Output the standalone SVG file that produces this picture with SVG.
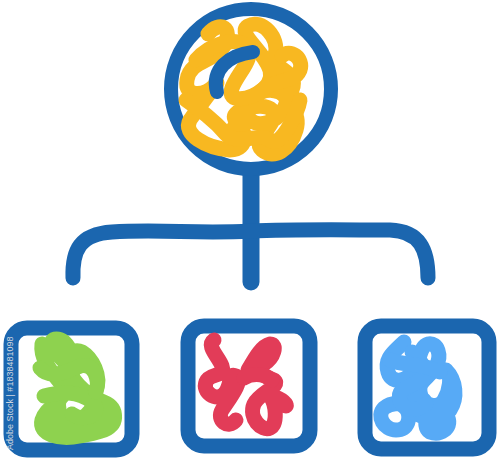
<svg xmlns="http://www.w3.org/2000/svg" width="500" height="461" viewBox="0 0 500 461">
<style>
.ln{fill:none;stroke:#1B66AF;stroke-linecap:round;stroke-linejoin:round}
.sc{fill:none;stroke-linecap:round;stroke-linejoin:round;stroke-width:15}
.y{stroke:#F8B821}.g{stroke:#8ED24F}.r{stroke:#E23C58}.b{stroke:#57AAF6}
.wm{font-family:"Liberation Sans",Arial,sans-serif;font-size:9px;fill:#cfd5df}
</style>
<rect width="500" height="461" fill="#fff"/>
<g id="connectors">
<path class="ln" stroke-width="17" d="M251 172 L251 282"/>
<path class="ln" stroke-width="15" d="M73 278 C72 250 80 234 112 232 C160 229 200 234 250 231 C300 229 350 230 390 230 C420 231 428 250 428 278"/>
</g>
<g id="root">
<circle cx="251" cy="89" r="80" class="ln" stroke-width="14"/>
<path class="sc y" d="M208 34 C220 20 234 28 224 46 C214 62 190 60 187 80 C184 98 204 96 214 86 C226 72 198 108 190 120 C182 134 206 148 230 150 C250 150 246 128 236 120 C226 112 262 100 272 110 C282 122 250 140 262 150 C274 160 290 150 296 130 C302 110 284 108 292 90 C300 70 270 70 275 55 C280 38 262 18 248 26 C236 34 264 50 270 70 C276 92 240 96 248 116 C254 130 280 124 286 104 C290 90 262 84 254 100 C246 116 228 126 232 140"/>
<path class="sc y" d="M196 60 C210 44 236 36 246 46 C256 58 238 72 232 88 C226 104 250 100 262 90 C276 78 294 84 300 70 C304 58 290 48 282 56"/>
<path class="sc y" d="M186 100 C200 110 214 120 226 134 C236 146 262 132 270 140 C280 150 298 112 300 100"/>
<path class="ln" stroke-width="14" d="M217 92 C211 70 228 55 253 52"/>
</g>
<g id="child1">
<rect x="11" y="328" width="121" height="122" rx="16" class="ln" stroke-width="15"/>
<path class="sc g" d="M42 344 C40 360 52 372 62 385 C72 398 46 405 42 420 C38 435 60 440 80 436 C100 432 118 430 114 412 C110 398 90 404 96 390 C102 376 92 358 82 352 C70 346 64 362 72 376 C80 392 100 398 104 414 C108 428 80 430 66 420 C52 410 60 390 70 380 C80 370 58 360 52 346 C48 338 62 334 70 350 C80 372 58 392 50 410 C44 424 66 440 74 428 C82 416 98 410 92 398"/>
<path class="sc g" d="M44 396 C60 392 78 390 92 402 C104 412 86 424 72 414"/>
<path class="sc g" d="M40 368 C50 380 66 372 80 366 C94 362 100 380 96 392"/>
</g>
<g id="child2">
<rect x="188" y="326" width="122" height="120" rx="16" class="ln" stroke-width="15"/>
<path class="sc r" stroke-width="14" d="M214 340 C206 346 218 356 222 366 C226 378 210 372 206 382 C202 392 216 402 224 394 C232 386 228 372 236 376 C244 380 230 398 222 410 C216 420 228 430 236 420"/>
<path class="sc r" stroke-width="14" d="M248 370 C256 356 262 346 270 344 C278 344 274 358 264 364 C254 372 268 378 274 380 C282 386 260 392 254 404 C248 418 262 432 270 428 C278 424 276 404 270 396 C278 396 288 404 286 406"/>
<path class="sc r" stroke-width="14" d="M244 378 C250 374 262 372 272 380"/>
</g>
<g id="child3">
<rect x="365" y="326" width="124" height="123" rx="16" class="ln" stroke-width="15"/>
<path class="sc b" d="M404 342 C394 352 384 358 388 372 C392 386 408 380 414 370 C420 360 420 346 428 344 C438 342 442 356 436 366 C430 378 418 380 420 392 C422 406 438 410 444 400 C450 390 452 376 446 370 C456 380 458 398 450 410 C442 422 424 420 414 412 C406 404 394 400 384 408 C376 416 384 430 396 430 C408 430 412 418 406 408 C398 398 416 392 424 400 C432 408 420 426 430 432 C440 436 452 428 448 418"/>
<path class="sc b" d="M412 352 C420 360 430 370 420 380 C410 388 396 388 400 400 C404 412 416 412 426 404"/>
<path class="sc b" d="M390 360 C404 366 420 362 440 372"/>
</g>
<text class="wm" transform="translate(13 450) rotate(-90)">Adobe Stock | #1838481098</text>
</svg>
